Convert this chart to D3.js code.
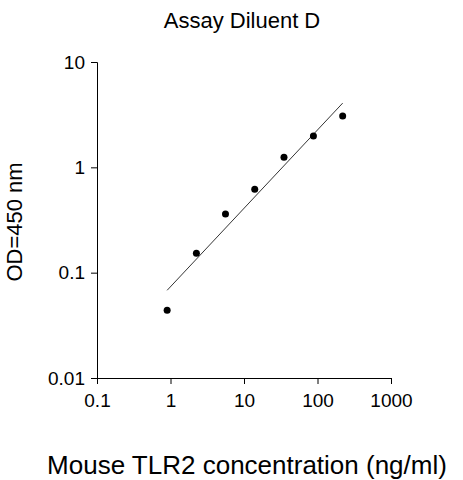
<!DOCTYPE html>
<html><head><meta charset="utf-8">
<script src="https://cdn.jsdelivr.net/npm/d3@7"></script>
<style>body{margin:0;background:#fff}text{font-family:Arial,"Liberation Sans",sans-serif}</style>
</head><body><div id="chart"></div>
<script>
// measured points
var conc = [0.9, 2.25, 5.6, 14, 35, 88, 220];
var od = [0.044, 0.153, 0.36, 0.62, 1.25, 1.98, 3.07];
// fitted line ends
var fitX = [0.9, 220];
var fitY = [0.068, 4.07];
var xTicks = [0.1, 1, 10, 100, 1000];
var yTicks = [0.01, 0.1, 1, 10];

var svg = d3.select("#chart").append("svg").attr("width", 463).attr("height", 480);

var x = d3.scaleLog().domain([0.1, 1000]).range([97, 391]);
var y = d3.scaleLog().domain([0.01, 10]).range([378, 62]);

svg.append("g").attr("transform", "translate(0,378)")
    .call(d3.axisBottom(x).tickValues(xTicks).tickFormat(d => d).tickSizeOuter(0).tickSize(6).tickPadding(10))
    .call(g => g.selectAll("text").attr("font-size", 19).attr("fill", "#000"));
svg.append("g").attr("transform", "translate(97,0)")
    .call(d3.axisLeft(y).tickValues(yTicks).tickFormat(d => d).tickSizeOuter(0).tickSize(6).tickPadding(6))
    .call(g => g.selectAll("text").attr("font-size", 19).attr("fill", "#000"));

svg.append("line")
    .attr("x1", x(fitX[0])).attr("y1", y(fitY[0]))
    .attr("x2", x(fitX[1])).attr("y2", y(fitY[1]))
    .attr("stroke", "#000").attr("stroke-width", 0.8);

svg.selectAll("circle").data(conc).enter().append("circle")
    .attr("cx", d => x(d)).attr("cy", (d, i) => y(od[i])).attr("r", 3.5).attr("fill", "#000");

svg.append("text").attr("x", 242).attr("y", 28).attr("text-anchor", "middle")
    .attr("font-size", 22).text("Assay Diluent D");
svg.append("text").attr("transform", "translate(22,222) rotate(-90)").attr("text-anchor", "middle")
    .attr("font-size", 22).text("OD=450 nm");
svg.append("text").attr("x", 247).attr("y", 474).attr("text-anchor", "middle")
    .attr("font-size", 26).text("Mouse TLR2 concentration (ng/ml)");
</script></body></html>
